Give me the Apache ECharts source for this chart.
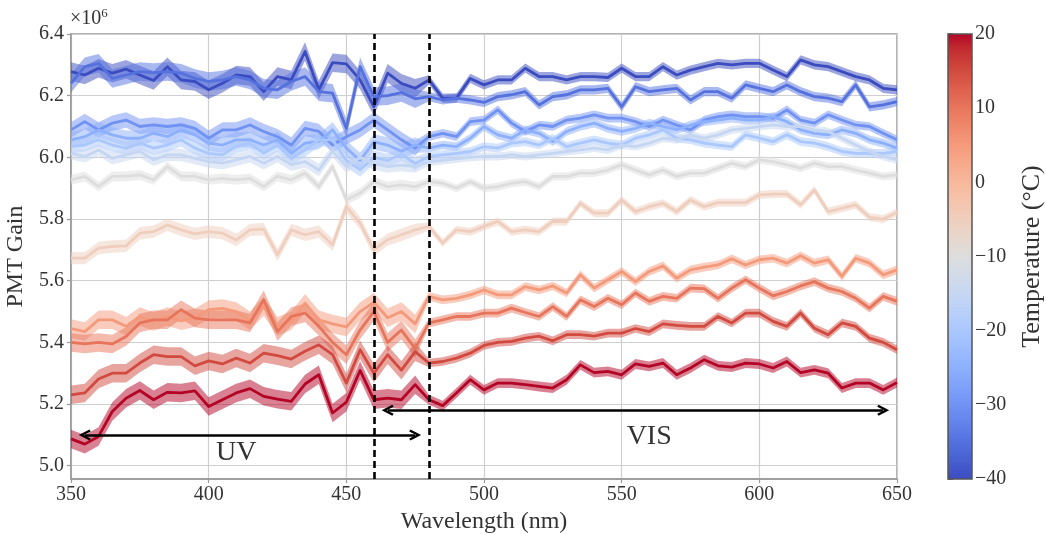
<!DOCTYPE html>
<html>
<head>
<meta charset="utf-8">
<script src="https://cdn.jsdelivr.net/npm/echarts@6/dist/echarts.min.js"></script>
<style>
  html, body { margin: 0; padding: 0; background: #fff; }
  #chart { width: 1046px; height: 534px; }
</style>
</head>
<body>
<div id="chart"></div>
<script>
// Wavelength grid of the gain scan (nm)
const WAVELENGTH = [350,355,360,365,370,375,380,385,390,395,400,405,410,415,420,425,430,435,440,445,
  450,455,460,465,470,475,480,485,490,495,500,505,510,515,520,525,530,535,540,545,
  550,555,560,565,570,575,580,585,590,595,600,605,610,615,620,625,630,635,640,645,650];

// PMT temperature of each scan (°C)
const TEMPS = [-40, -35, -30, -25, -20, -15, -10, -5, 5, 10, 15, 20];

// Gain (×10^6) per temperature, one value per wavelength
const GAIN_M40 = [6.278,6.267,6.289,6.273,6.286,6.267,6.249,6.294,6.251,6.246,6.219,6.240,6.267,6.262,6.213,6.262,6.251,6.343,6.219,6.307,
  6.303,6.251,6.164,6.273,6.240,6.224,6.251,6.192,6.192,6.256,6.235,6.251,6.251,6.289,6.262,6.262,6.251,6.262,6.262,6.259,
  6.289,6.262,6.262,6.294,6.267,6.283,6.294,6.305,6.300,6.305,6.305,6.283,6.262,6.316,6.300,6.294,6.278,6.262,6.251,6.224,6.219];
const GAIN_M35 = [6.240,6.294,6.305,6.256,6.267,6.278,6.275,6.278,6.273,6.256,6.246,6.251,6.262,6.251,6.224,6.219,6.246,6.262,6.213,6.208,
  6.094,6.294,6.197,6.200,6.210,6.190,6.197,6.186,6.192,6.186,6.178,6.197,6.203,6.213,6.170,6.197,6.203,6.219,6.219,6.224,
  6.164,6.229,6.213,6.219,6.224,6.186,6.213,6.213,6.192,6.235,6.224,6.213,6.235,6.213,6.197,6.192,6.181,6.235,6.164,6.170,6.181];
const GAIN_M30 = [6.089,6.116,6.089,6.111,6.121,6.100,6.105,6.100,6.105,6.094,6.062,6.089,6.089,6.105,6.084,6.067,6.040,6.094,6.084,6.040,
  6.067,6.089,6.121,6.089,6.057,6.030,6.067,6.078,6.067,6.116,6.121,6.154,6.111,6.084,6.105,6.100,6.121,6.127,6.138,6.127,
  6.127,6.116,6.100,6.121,6.105,6.089,6.121,6.132,6.138,6.132,6.132,6.127,6.154,6.121,6.111,6.138,6.121,6.105,6.100,6.078,6.057];
const GAIN_M25 = [6.057,6.067,6.089,6.073,6.062,6.062,6.078,6.067,6.089,6.073,6.046,6.040,6.057,6.057,6.040,6.057,6.013,6.046,6.051,6.089,
  6.030,5.990,6.050,6.040,6.020,6.040,6.030,6.040,6.035,6.062,6.100,6.073,6.062,6.089,6.078,6.051,6.084,6.100,6.111,6.094,
  6.084,6.094,6.111,6.100,6.089,6.105,6.116,6.121,6.127,6.121,6.121,6.132,6.116,6.089,6.078,6.073,6.089,6.078,6.057,6.046,6.030];
const GAIN_M20 = [6.035,6.040,6.057,6.040,6.030,6.046,6.030,6.040,6.057,6.030,6.013,6.008,6.035,6.046,6.013,6.040,5.997,6.024,6.057,6.057,
  5.990,5.960,6.000,5.990,6.010,5.980,6.003,6.008,6.013,6.019,6.035,6.030,6.046,6.051,6.040,6.062,6.035,6.046,6.057,6.046,
  6.040,6.062,6.073,6.089,6.062,6.057,6.046,6.040,6.035,6.073,6.062,6.051,6.073,6.051,6.046,6.035,6.019,6.013,6.013,6.013,6.019];
const GAIN_M15 = [6.013,6.003,6.024,5.997,6.008,6.019,5.992,6.008,6.008,5.997,5.986,5.981,5.992,6.003,5.981,6.003,5.976,5.986,5.959,6.020,
  5.970,6.000,5.980,5.970,5.975,5.970,5.985,5.990,5.995,6.000,6.003,6.003,6.008,6.003,6.008,6.013,6.019,6.024,6.030,6.024,
  6.040,6.035,6.046,6.062,6.057,6.073,6.062,6.073,6.089,6.094,6.100,6.105,6.100,6.100,6.089,6.084,6.062,6.040,6.019,6.003,5.992];
const GAIN_M10 = [5.927,5.938,5.905,5.938,5.938,5.943,5.927,5.970,5.938,5.938,5.927,5.932,5.927,5.932,5.905,5.938,5.927,5.949,5.905,5.970,
  5.862,5.884,5.921,5.905,5.911,5.905,5.921,5.916,5.900,5.921,5.900,5.905,5.916,5.921,5.905,5.938,5.938,5.949,5.949,5.959,
  5.976,5.959,5.943,5.959,5.938,5.949,5.949,5.965,5.981,5.970,5.992,5.986,5.976,5.965,5.981,5.970,5.970,5.959,5.949,5.938,5.943];
const GAIN_M5 = [5.673,5.673,5.706,5.711,5.713,5.754,5.759,5.781,5.765,5.752,5.759,5.754,5.732,5.765,5.767,5.684,5.765,5.749,5.759,5.716,
  5.840,5.787,5.700,5.733,5.749,5.765,5.776,5.722,5.765,5.759,5.776,5.792,5.759,5.765,5.759,5.792,5.792,5.851,5.819,5.819,
  5.862,5.824,5.840,5.851,5.824,5.862,5.840,5.853,5.853,5.853,5.878,5.881,5.881,5.846,5.894,5.824,5.835,5.846,5.806,5.800,5.821];
const GAIN_P5 = [5.445,5.435,5.473,5.473,5.452,5.484,5.468,5.484,5.470,5.480,5.506,5.510,5.500,5.470,5.516,5.452,5.470,5.527,5.473,5.460,
  5.450,5.500,5.530,5.480,5.500,5.460,5.549,5.538,5.543,5.554,5.570,5.554,5.554,5.581,5.570,5.583,5.560,5.619,5.576,5.603,
  5.630,5.597,5.630,5.648,5.608,5.635,5.644,5.651,5.671,5.651,5.668,5.673,5.657,5.681,5.657,5.668,5.614,5.673,5.657,5.619,5.635];
const GAIN_P10 = [5.400,5.395,5.400,5.395,5.419,5.463,5.473,5.473,5.506,5.479,5.473,5.473,5.473,5.463,5.538,5.435,5.484,5.495,5.452,5.400,
  5.360,5.440,5.500,5.400,5.440,5.380,5.463,5.473,5.484,5.484,5.495,5.495,5.511,5.497,5.484,5.516,5.484,5.538,5.516,5.543,
  5.522,5.560,5.533,5.549,5.543,5.576,5.574,5.543,5.576,5.603,5.576,5.551,5.565,5.583,5.597,5.576,5.565,5.543,5.511,5.549,5.533];
const GAIN_P15 = [5.230,5.236,5.281,5.300,5.300,5.333,5.360,5.354,5.354,5.324,5.340,5.330,5.349,5.333,5.365,5.357,5.346,5.371,5.392,5.360,
  5.268,5.376,5.300,5.360,5.310,5.370,5.333,5.338,5.349,5.365,5.390,5.400,5.403,5.414,5.420,5.405,5.425,5.425,5.420,5.430,
  5.430,5.445,5.435,5.460,5.455,5.452,5.452,5.484,5.463,5.495,5.495,5.468,5.452,5.495,5.446,5.425,5.463,5.452,5.414,5.400,5.376];
const GAIN_P20 = [5.087,5.070,5.095,5.176,5.219,5.244,5.214,5.238,5.236,5.243,5.192,5.214,5.236,5.250,5.225,5.216,5.209,5.265,5.295,5.171,
  5.206,5.309,5.214,5.219,5.214,5.263,5.214,5.195,5.236,5.279,5.246,5.268,5.268,5.263,5.257,5.252,5.279,5.327,5.302,5.306,
  5.295,5.330,5.322,5.333,5.295,5.317,5.344,5.324,5.320,5.333,5.330,5.317,5.338,5.302,5.311,5.300,5.252,5.268,5.268,5.246,5.270];

const GAINS = [GAIN_M40, GAIN_M35, GAIN_M30, GAIN_M25, GAIN_M20, GAIN_M15, GAIN_M10, GAIN_M5, GAIN_P5, GAIN_P10, GAIN_P15, GAIN_P20];

// One-sigma spread of each scan (×10^6) in the UV and VIS LED ranges
const SPREAD_UV  = [0.030, 0.030, 0.025, 0.025, 0.022, 0.020, 0.016, 0.020, 0.030, 0.030, 0.030, 0.030];
const SPREAD_VIS = [0.015, 0.015, 0.014, 0.014, 0.014, 0.013, 0.013, 0.013, 0.014, 0.014, 0.014, 0.016];
const VIS_START = 480;

// LED range boundaries and annotations
const LED_EDGES = [460, 480];
const UV_SPAN = [355, 475, 5.10];
const VIS_SPAN = [465, 645, 5.18];
const UV_LABEL = [410, 5.042];
const VIS_LABEL = [560, 5.094];

// Axis ticks
const GAIN_TICKS = [5.0, 5.2, 5.4, 5.6, 5.8, 6.0, 6.2, 6.4];
const GAIN_RANGE = [4.957, 6.4];
const TEMP_RANGE = [-40, 20];

// Moreland's cool-warm diverging colour map
const COOLWARM = [[59,76,192],[68,90,204],[77,104,215],[87,117,225],[98,130,234],[108,142,241],[119,154,247],[130,165,251],
  [141,176,254],[152,185,255],[163,194,255],[174,201,253],[184,208,249],[194,213,244],[204,217,238],[213,219,230],
  [221,221,221],[229,216,209],[236,211,197],[241,204,185],[245,196,173],[247,187,160],[247,177,148],[247,166,135],
  [244,154,123],[241,141,111],[236,127,99],[229,112,88],[222,96,77],[213,80,66],[203,62,56],[192,40,47],[180,4,38]];

function coolwarm(f) {
  f = Math.max(0, Math.min(1, f));
  const p = f * (COOLWARM.length - 1);
  const i = Math.min(COOLWARM.length - 2, Math.floor(p));
  const t = p - i;
  return COOLWARM[i].map((c, k) => Math.round(c + (COOLWARM[i + 1][k] - c) * t));
}
function tempColor(T, a) {
  const c = coolwarm((T - TEMP_RANGE[0]) / (TEMP_RANGE[1] - TEMP_RANGE[0]));
  return a == null ? `rgb(${c[0]},${c[1]},${c[2]})` : `rgba(${c[0]},${c[1]},${c[2]},${a})`;
}

const FONT = 'Liberation Serif';
const TEXT = '#333';
const FRAME = '#999';
const TICK_SIZE = 20;
const NAME_SIZE = 24;
const minusSign = v => String(v).replace('-', '\u2212');

// Open arrow head, tip pointing up (rotated along the line by ECharts)
const HEAD = 'path://M5.5,0 L11,10 L9,11.2 L5.5,4.6 L2,11.2 L0,10 Z';

const chart = echarts.init(document.getElementById('chart'), null, { renderer: 'canvas' });

const series = [];
TEMPS.forEach((T, i) => {
  const g = GAINS[i];
  // shaded spread band
  series.push({
    type: 'custom',
    xAxisIndex: 0, yAxisIndex: 0,
    clip: true,
    silent: true,
    data: [0],
    renderItem: (params, api) => {
      const upper = [], lower = [];
      WAVELENGTH.forEach((w, k) => {
        const s = w < VIS_START ? SPREAD_UV[i] : SPREAD_VIS[i];
        upper.push(api.coord([w, g[k] + s]));
        lower.push(api.coord([w, g[k] - s]));
      });
      return {
        type: 'polygon',
        shape: { points: upper.concat(lower.reverse()) },
        style: { fill: tempColor(T, 0.5) }
      };
    }
  });
  // mean gain
  series.push({
    type: 'line',
    name: T + ' °C',
    xAxisIndex: 0, yAxisIndex: 0,
    data: WAVELENGTH.map((w, k) => [w, g[k]]),
    symbol: 'none',
    silent: true,
    lineStyle: { color: tempColor(T), width: 2.8, join: 'round' },
    itemStyle: { color: tempColor(T) }
  });
});

// LED range markers
series.push({
  type: 'line',
  xAxisIndex: 0, yAxisIndex: 0,
  data: [],
  silent: true,
  z: 10,
  markLine: {
    silent: true,
    animation: false,
    symbol: 'none',
    label: { show: false },
    lineStyle: { color: '#000', width: 2.6, type: [7, 4] },
    data: LED_EDGES.map(x => ({ xAxis: x }))
  }
});
// LED range arrows and labels
series.push({
  type: 'line',
  xAxisIndex: 0, yAxisIndex: 0,
  data: [],
  silent: true,
  z: 11,
  markLine: {
    silent: true,
    animation: false,
    symbol: [HEAD, HEAD],
    symbolSize: [11, 12],
    label: { show: false },
    lineStyle: { color: '#000', width: 2.6, type: 'solid' },
    data: [
      [{ coord: [UV_SPAN[0], UV_SPAN[2]] }, { coord: [UV_SPAN[1], UV_SPAN[2]] }],
      [{ coord: [VIS_SPAN[0], VIS_SPAN[2]] }, { coord: [VIS_SPAN[1], VIS_SPAN[2]] }]
    ]
  },
  markPoint: {
    silent: true,
    animation: false,
    symbol: 'circle',
    symbolSize: 0,
    label: { show: true, position: 'inside', fontFamily: FONT, fontSize: 28, color: TEXT },
    data: [
      { coord: UV_LABEL, label: { formatter: 'UV' } },
      { coord: VIS_LABEL, label: { formatter: 'VIS' } }
    ]
  }
});

// Colour bar
series.push({
  type: 'custom',
  xAxisIndex: 1, yAxisIndex: 1,
  silent: true,
  data: [0],
  renderItem: (params, api) => {
    const p0 = api.coord([0, TEMP_RANGE[0]]);
    const p1 = api.coord([1, TEMP_RANGE[1]]);
    const stops = COOLWARM.map((c, k) => ({ offset: k / (COOLWARM.length - 1), color: `rgb(${c[0]},${c[1]},${c[2]})` }));
    return {
      type: 'rect',
      shape: { x: p0[0], y: p1[1], width: p1[0] - p0[0], height: p0[1] - p1[1] },
      style: { fill: new echarts.graphic.LinearGradient(0, 1, 0, 0, stops), stroke: '#555', lineWidth: 1.5 }
    };
  }
});

const option = {
  animation: false,
  backgroundColor: '#fff',
  textStyle: { fontFamily: FONT, color: TEXT },
  grid: [
    { left: 71, right: 149, top: 34, bottom: 55, outerBoundsMode: 'none', containLabel: false,
      show: true, borderColor: FRAME, borderWidth: 1.5, backgroundColor: 'transparent' },
    { left: 948, width: 24, top: 34, bottom: 55, outerBoundsMode: 'none', containLabel: false }
  ],
  xAxis: [
    {
      type: 'value', gridIndex: 0, min: 350, max: 650, interval: 50,
      name: 'Wavelength (nm)', nameLocation: 'middle', nameGap: 28,
      nameTextStyle: { fontFamily: FONT, fontSize: NAME_SIZE, color: TEXT },
      axisLine: { show: true, lineStyle: { color: FRAME, width: 1.5 } },
      axisTick: { show: true, length: 4, lineStyle: { color: FRAME, width: 1.2 } },
      axisLabel: { fontFamily: FONT, fontSize: TICK_SIZE, color: TEXT, margin: 6 },
      splitLine: { show: true, lineStyle: { color: '#cfcfcf', width: 1.2 } }
    },
    { type: 'value', gridIndex: 1, min: 0, max: 1, show: false }
  ],
  yAxis: [
    {
      type: 'value', gridIndex: 0, min: GAIN_RANGE[0], max: GAIN_RANGE[1],
      name: 'PMT Gain', nameLocation: 'middle', nameGap: 32, nameRotate: 90,
      nameTextStyle: { fontFamily: FONT, fontSize: NAME_SIZE, color: TEXT },
      axisLine: { show: true, lineStyle: { color: FRAME, width: 1.5 } },
      axisTick: { show: true, length: 4, customValues: GAIN_TICKS, lineStyle: { color: FRAME, width: 1.2 } },
      axisLabel: { fontFamily: FONT, fontSize: TICK_SIZE, color: TEXT, margin: 7, customValues: GAIN_TICKS, formatter: v => v.toFixed(1) },
      splitLine: { show: true, lineStyle: { color: '#cfcfcf', width: 1.2 } }
    },
    {
      type: 'value', gridIndex: 1, min: TEMP_RANGE[0], max: TEMP_RANGE[1], interval: 10, position: 'right',
      name: 'Temperature (°C)', nameLocation: 'middle', nameGap: 47, nameRotate: 90,
      nameTextStyle: { fontFamily: FONT, fontSize: 26, color: TEXT },
      axisLine: { show: false },
      axisTick: { show: true, inside: false, length: 5, lineStyle: { color: '#444', width: 1.5 } },
      axisLabel: { fontFamily: FONT, fontSize: TICK_SIZE, color: TEXT, margin: 3, formatter: v => minusSign(v) },
      splitLine: { show: false }
    }
  ],
  graphic: [
    {
      type: 'text', left: 70, top: 7,
      style: {
        text: '{b|\u00d710}{s|6}',
        rich: {
          b: { fontFamily: FONT, fontSize: 20, fill: TEXT, verticalAlign: 'bottom' },
          s: { fontFamily: FONT, fontSize: 13, fill: TEXT, verticalAlign: 'top', padding: [0, 0, 9, 0] }
        }
      }
    }
  ],
  series
};

chart.setOption(option);
</script>
</body>
</html>
